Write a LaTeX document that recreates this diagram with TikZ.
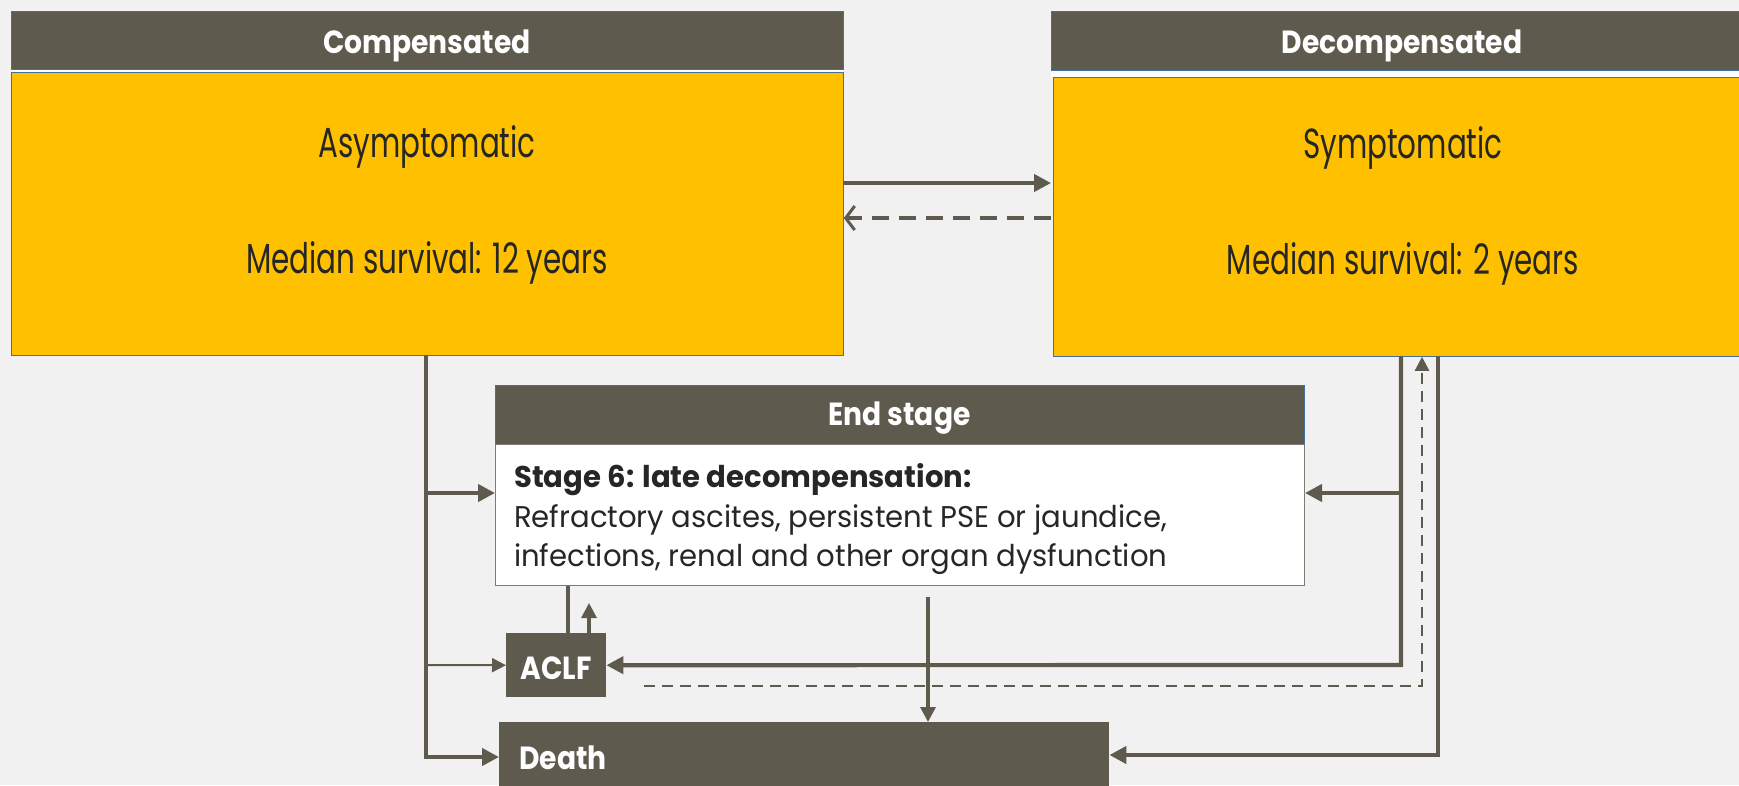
\documentclass[tikz,border=0pt]{standalone}
\usepackage{fontspec}
\setmainfont{Poppins}
\newfontfamily\condfont{Poppins}[FakeStretch=0.7]
\newfontfamily\hdfont{Poppins}[FakeStretch=0.88]
\newfontfamily\bodyfont{Poppins}[FakeStretch=0.97]
\usetikzlibrary{arrows.meta}
\definecolor{dk}{RGB}{94,90,78}
\definecolor{yl}{RGB}{255,192,0}
\definecolor{bg}{RGB}{241,241,241}
\definecolor{txt}{RGB}{38,38,38}
\definecolor{edge}{RGB}{65,113,156}
\tikzset{
  hdr/.style={draw=edge, line width=0.8pt, fill=dk, inner sep=0pt, anchor=north west},
  ybox/.style={draw=edge, line width=0.8pt, fill=yl, inner sep=0pt, anchor=north west},
  wbox/.style={draw=dk!80, line width=1pt, fill=white, inner sep=0pt, anchor=north west},
  hdtxt/.style={text=white, font=\hdfont\bfseries\fontsize{32}{38}\selectfont, inner sep=0pt, anchor=base},
  ytxt/.style={text=txt, font=\condfont\fontsize{42}{48}\selectfont, inner sep=0pt, anchor=base},
  btxt/.style={text=txt, font=\bodyfont\fontsize{30}{36}\selectfont, inner sep=0pt, anchor=base west},
  arr/.style={draw=dk, line width=4.2pt, -{Triangle[length=17pt,width=17pt]}},
  marr/.style={draw=dk, line width=3.2pt, -{Triangle[length=15pt,width=15pt]}},
  thinarr/.style={draw=dk, line width=2pt, -{Triangle[length=14pt,width=14pt]}},
  dsh/.style={draw=dk, line width=3pt, dash pattern=on 11pt off 7pt}
}
\begin{document}
\begin{tikzpicture}[x=1pt,y=-1pt]
\useasboundingbox (0,0) rectangle (1739,785);
\clip (0,0) rectangle (1739,785);
\fill[bg] (0,0) rectangle (1739,785);
% white backing strips
\fill[white] (11,11) rectangle (843,72);
\fill[white] (1051,11) rectangle (1760,77);
% Compensated
\node[hdr, minimum width=832pt, minimum height=58pt] (chdr) at (11,11) {};
\node[hdtxt] (chdrt) at (427,53) {Compensated};
\node[ybox, minimum width=832pt, minimum height=283pt] (cbody) at (11,72) {};
\node[ytxt] (casym) at (427,157) {Asymptomatic};
\node[ytxt] (cmed) at (427,273) {Median survival: 12 years};
% Decompensated
\node[hdr, minimum width=702pt, minimum height=59pt] (dhdr) at (1051,11) {};
\node[hdtxt] (dhdrt) at (1402,53) {Decompensated};
\node[ybox, minimum width=700pt, minimum height=279pt] (dbody) at (1053,77) {};
\node[ytxt] (dsym) at (1403,158) {Symptomatic};
\node[ytxt] (dmed) at (1403,274) {Median survival: 2 years};
% End stage
\node[hdr, minimum width=809pt, minimum height=59pt] (eshdr) at (495,385) {};
\node[hdtxt] (eshdrt) at (899.5,425) {End stage};
\node[wbox, minimum width=809pt, minimum height=141pt] (esbody) at (495,444) {};
\node[btxt, font=\bodyfont\bfseries\fontsize{30}{36}\selectfont] (es1) at (514,487) {Stage 6: late decompensation:};
\node[btxt] (es2) at (514,527) {Refractory ascites, persistent PSE or jaundice,};
\node[btxt] (es3) at (514,566) {infections, renal and other organ dysfunction};
% ACLF
\node[fill=dk, inner sep=0pt, anchor=north west, minimum width=100pt, minimum height=64pt] (aclf) at (506,633) {};
\node[hdtxt] (aclft) at (556,679) {ACLF};
% Death
\node[fill=dk, inner sep=0pt, anchor=north west, minimum width=610pt, minimum height=80pt] (death) at (499,722) {};
\node[hdtxt, anchor=base west] (deatht) at (519,769) {Death};
% connectors between top boxes
\coordinate (cA) at (843,183);
\draw[arr] (cA) -- (cA -| dhdr.west);
\coordinate (cB) at (1051,218);
\draw[dsh, line width=3.6pt, dash pattern=on 17pt off 10pt, -{Straight Barb[length=9pt,width=24pt,line width=3pt]}] (cB) -- (cB -| cbody.east);
% left spine
\coordinate (spTop) at (426,355);
\coordinate (spBot) at (426,757);
\draw[arr, line join=miter] (spTop) -- (spBot) -- (spBot -| death.west);
\coordinate (spES) at (426,493);
\draw[arr] (spES) -- (spES -| esbody.west);
\coordinate (spAC) at (426,665);
\draw[thinarr] (spAC) -- (aclf.west);
% ACLF up
\coordinate (acL) at (568,633);
\draw[draw=dk, line width=3.2pt] (acL) -- (acL |- esbody.south);
\coordinate (acR) at (589,633);
\coordinate (acRt) at (589,603);
\draw[marr] (acR) -- (acRt);
% End stage to death
\coordinate (edT) at (928,597);
\draw[marr] (edT) -- (edT |- death.north);
% right side
\coordinate (rA) at (1401,356);
\coordinate (rB) at (1401,665);
\draw[arr, line join=miter] (rA) -- (rB) -- (aclf.east);
\coordinate (rES) at (1401,493);
\draw[arr] (rES) -- (rES -| esbody.east);
\coordinate (dS) at (644,686);
\coordinate (dC) at (1422,686);
\draw[dsh, line width=2.6pt, -{Triangle[length=14pt,width=14pt]}] (dS) -- (dC) -- (dC |- dbody.south);
\coordinate (dR) at (1438,356);
\coordinate (dRb) at (1438,755);
\draw[arr, line join=miter] (dR) -- (dRb) -- (dRb -| death.east);
\end{tikzpicture}
\end{document}
